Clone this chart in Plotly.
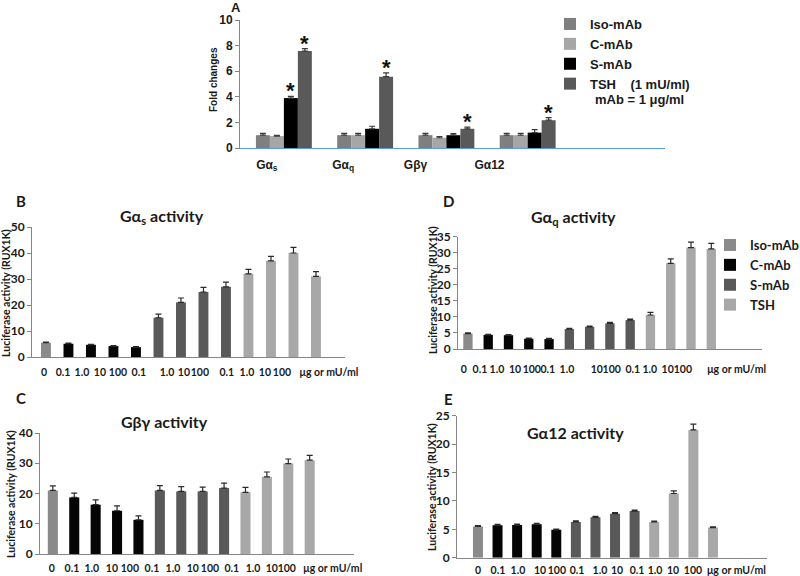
import plotly.graph_objects as go

# ---------------- Panel A data ----------------
A_TARGETS = ["Gα<sub>s</sub>", "Gα<sub>q</sub>", "Gβγ", "Gα12"]
A_SERIES = ["Iso-mAb", "C-mAb", "S-mAb", "TSH\u00a0\u00a0\u00a0\u00a0(1 mU/ml)"]
A_ISO = [1.0, 1.0, 1.0, 1.0]
A_ISO_ERR = [0.15, 0.15, 0.15, 0.15]
A_C = [0.93, 1.0, 0.8, 1.0]
A_C_ERR = [0.06, 0.15, 0.1, 0.15]
A_S = [3.9, 1.5, 1.0, 1.2]
A_S_ERR = [0.13, 0.2, 0.13, 0.23]
A_TSH = [7.57, 5.57, 1.5, 2.17]
A_TSH_ERR = [0.2, 0.3, 0.13, 0.2]
A_S_SIG = [True, False, False, False]
A_TSH_SIG = [True, True, True, True]
A_NOTE = "mAb = 1 μg/ml"

# ---------------- Panels B-E data ----------------
GROUPS = ["Iso-mAb", "C-mAb", "S-mAb", "TSH"]
BAR_GROUP = ["Iso-mAb",
             "C-mAb", "C-mAb", "C-mAb", "C-mAb",
             "S-mAb", "S-mAb", "S-mAb", "S-mAb",
             "TSH", "TSH", "TSH", "TSH"]

B_VALUES = [5.5, 5.1, 4.7, 4.2, 3.8, 15.1, 21.0, 25.0, 27.0, 32.0, 37.0, 40.0, 31.0]
B_ERRORS = [0.2, 0.2, 0.2, 0.2, 0.2, 1.4, 1.7, 1.8, 1.8, 1.7, 1.7, 2.2, 1.8]
B_LABELS = ["0", "0.1", "1.0", "10", "100", "0.1", "1.0", "10", "100",
            "0.1", "1.0", "10", "100", "μg or mU/ml"]

D_VALUES = [4.8, 4.4, 4.3, 3.2, 3.1, 6.2, 6.9, 8.0, 9.0, 10.6, 26.7, 31.6, 31.2]
D_ERRORS = [0.2, 0.2, 0.2, 0.2, 0.2, 0.2, 0.2, 0.3, 0.3, 0.8, 1.4, 1.7, 1.7]
D_LABELS = ["0", "0.1", "1.0", "10", "100", "0.1", "1.0", "10", "100",
            "0.1", "1.0", "10", "100", "μg or mU/ml"]

C_VALUES = [21.0, 18.7, 16.3, 14.3, 11.3, 21.0, 20.7, 20.7, 21.8, 20.4, 25.5, 29.9, 31.0]
C_ERRORS = [1.5, 1.4, 1.6, 1.6, 1.3, 1.6, 1.6, 1.4, 1.6, 1.6, 1.6, 1.5, 1.6]
C_LABELS = ["0", "0.1", "1.0", "10", "100", "0.1", "1.0", "10", "100",
            "0.1", "1.0", "10", "100", "μg or mU/ml"]

E_VALUES = [5.5, 5.7, 5.75, 5.9, 4.9, 6.3, 7.1, 7.75, 8.2, 6.3, 11.3, 22.5, 5.3]
E_ERRORS = [0.15, 0.15, 0.15, 0.15, 0.15, 0.2, 0.2, 0.2, 0.2, 0.15, 0.45, 1.0, 0.15]
E_LABELS = ["0", "0.1", "1.0", "10", "100", "0.1", "1.0", "10",
            "0.1", "1.0", "10", "100", "μg or mU/ml"]

# ---------------- layout constants (styling / placement) ----------------
W, H = 800, 576
A_COLORS = ["#7f7f7f", "#a6a6a6", "#000000", "#595959"]
G_COLORS = {"Iso-mAb": "#8a8a8a", "C-mAb": "#050505", "S-mAb": "#595959", "TSH": "#a8a8a8"}
AX_GRAY = "#868686"
TXT = "#1a1a1a"
ARIAL = "Liberation Sans, Arial, sans-serif"
CAL = "Lato, Open Sans, sans-serif"


def fx(p):
    return p / W


def fy(p):
    return 1 - p / H


fig = go.Figure()

# ---- Panel A ----
A_BAR_W = 0.172
a_sets = [(A_ISO, A_ISO_ERR), (A_C, A_C_ERR), (A_S, A_S_ERR), (A_TSH, A_TSH_ERR)]
a_x = list(range(len(A_TARGETS)))
for i, (vals, errs) in enumerate(a_sets):
    fig.add_trace(go.Bar(
        x=a_x, y=vals, width=A_BAR_W, offset=(i - 2) * A_BAR_W,
        marker=dict(color=A_COLORS[i], line=dict(width=0)),
        error_y=dict(type="data", array=errs, arrayminus=[0] * len(errs),
                     symmetric=False, color="#3a3a3a", thickness=1.2, width=3),
        name=A_SERIES[i], legend="legend", xaxis="x", yaxis="y",
    ))

annotations = []
star_font = dict(family=ARIAL, size=22, color="#111", weight="bold")
for i, sig in enumerate(A_S_SIG):
    if sig:
        annotations.append(dict(x=a_x[i] + A_BAR_W / 2, y=A_S[i] + A_S_ERR[i],
                                xref="x", yref="y", text="*", showarrow=False,
                                yanchor="bottom", yshift=-9, font=star_font))
for i, sig in enumerate(A_TSH_SIG):
    if sig:
        annotations.append(dict(x=a_x[i] + 1.5 * A_BAR_W, y=A_TSH[i] + A_TSH_ERR[i],
                                xref="x", yref="y", text="*", showarrow=False,
                                yanchor="bottom", yshift=-9, font=star_font))

# ---- Panels B-E ----
panels = [
    ("2", B_VALUES, B_ERRORS, 0.44, False),
    ("3", D_VALUES, D_ERRORS, 0.46, True),
    ("4", C_VALUES, C_ERRORS, 0.47, False),
    ("5", E_VALUES, E_ERRORS, 0.51, False),
]
for ax, vals, errs, bw, show in panels:
    for g in GROUPS:
        idx = [k for k, grp in enumerate(BAR_GROUP) if grp == g]
        fig.add_trace(go.Bar(
            x=idx, y=[vals[k] for k in idx], width=bw,
            marker=dict(color=G_COLORS[g], line=dict(width=0)),
            error_y=dict(type="data", array=[errs[k] for k in idx],
                         arrayminus=[0] * len(idx), symmetric=False,
                         color="#2a2a2a", thickness=1.2, width=3),
            name=g, showlegend=show, legend="legend2",
            xaxis="x" + ax, yaxis="y" + ax,
        ))

# ---- axes ----
A_TICK_POS = [-0.21, 0.73, 1.62, 2.53]
B_TICK_POS = [-0.09, 0.76, 1.6, 2.4, 3.2, 4.13, 5.38, 6.13, 6.84, 8.04, 8.93, 9.73, 10.49, 12.58]
D_TICK_POS = [-0.2, 0.59, 1.43, 2.32, 3.15, 3.94, 4.88, 6.35, 7.09, 8.13, 8.97, 9.85, 10.6, 13.25]
C_TICK_POS = [-0.05, 0.89, 1.82, 2.76, 3.6, 4.63, 5.61, 6.54, 7.34, 8.36, 9.35, 10.23, 10.93, 13.08]
E_TICK_POS = [0, 1.02, 2.04, 3.17, 4.03, 5.06, 6.23, 7.1, 8.12, 9.04, 9.96, 10.98, 13.2]

xtick_font_c = dict(family=CAL, size=10.5, color=TXT, weight="bold")
ytick_font_c = dict(family=CAL, size=12, color=TXT, weight="bold")
tick_font_a = dict(family=ARIAL, size=12, color=TXT, weight="bold")

layout = dict(
    width=W, height=H, margin=dict(l=0, r=0, t=0, b=0, autoexpand=False),
    paper_bgcolor="white", plot_bgcolor="rgba(0,0,0,0)",
    barmode="overlay", showlegend=True,
    xaxis=dict(domain=[fx(240), fx(665)], range=[-0.54, 4.69], showgrid=False, zeroline=False,
               showline=True, linecolor="#5b9bd5", linewidth=1.2, ticks="",
               tickmode="array", tickvals=A_TICK_POS, ticktext=A_TARGETS, tickangle=0,
               tickfont=dict(family=ARIAL, size=12, color=TXT, weight="bold"),
               ticklabelstandoff=5, anchor="y"),
    yaxis=dict(domain=[fy(148), fy(20)], range=[0, 10], dtick=2, showgrid=False, zeroline=False,
               showline=True, linecolor=AX_GRAY, ticks="outside", ticklen=4, tickcolor=AX_GRAY,
               tickfont=tick_font_a, anchor="x"),
)


def xa(dom, rng, tpos, tlab, anchor, standoff):
    return dict(domain=dom, range=rng, showgrid=False, zeroline=False, showline=True,
                linecolor=AX_GRAY, linewidth=1, ticks="", tickmode="array", tickangle=0,
                tickvals=tpos, ticktext=tlab, tickfont=xtick_font_c, anchor=anchor,
                ticklabelstandoff=standoff)


def ya(dom, rng, dt, anchor):
    return dict(domain=dom, range=rng, dtick=dt, showgrid=False, zeroline=False, showline=True,
                linecolor=AX_GRAY, linewidth=1, ticks="outside", ticklen=4, tickcolor=AX_GRAY,
                tickfont=ytick_font_c, anchor=anchor)


layout["xaxis2"] = xa([fx(32), fx(345)], [-0.62, 13.29], B_TICK_POS, B_LABELS, "y2", 5)
layout["yaxis2"] = ya([fy(357), fy(227)], [0, 50], 10, "x2")
layout["xaxis3"] = xa([fx(458), fx(762)], [-0.49, 14.5], D_TICK_POS, D_LABELS, "y3", 10)
layout["yaxis3"] = ya([fy(349), fy(236.7)], [0, 35], 5, "x3")
layout["xaxis4"] = xa([fx(40), fx(354)], [-0.6, 14.07], C_TICK_POS, C_LABELS, "y4", 4)
layout["yaxis4"] = ya([fy(554), fy(433)], [0, 40], 10, "x4")
layout["xaxis5"] = xa([fx(457), fx(767)], [-1.07, 14.76], E_TICK_POS, E_LABELS, "y5", 3)
layout["yaxis5"] = ya([fy(557.7), fy(415.7)], [0, 25], 5, "x5")

layout["legend"] = dict(x=fx(550), y=fy(9), xanchor="left", yanchor="top",
                        bgcolor="rgba(0,0,0,0)", borderwidth=0, itemwidth=30,
                        font=dict(family=ARIAL, size=13, color=TXT, weight="bold"))
layout["legend2"] = dict(x=fx(710), y=fy(230), xanchor="left", yanchor="top",
                         bgcolor="rgba(0,0,0,0)", borderwidth=0, itemwidth=30,
                         tracegroupgap=2,
                         font=dict(family=CAL, size=13, color=TXT, weight="bold"))


def txt(x, y, text, size, family, angle=0, xanchor="center"):
    return dict(x=fx(x), y=fy(y), xref="paper", yref="paper", text=text, showarrow=False,
                xanchor=xanchor, yanchor="middle", textangle=angle,
                font=dict(family=family, size=size, color=TXT, weight="bold"))


annotations += [
    txt(236, 7, "A", 13, ARIAL),
    txt(21, 201, "B", 15, CAL),
    txt(448, 201, "D", 15, CAL),
    txt(21, 398, "C", 15, CAL),
    txt(448, 399, "E", 15, CAL),
    txt(162, 216, "Gα<sub>s</sub> activity", 16, CAL),
    txt(573, 217, "Gα<sub>q</sub> activity", 16, CAL),
    txt(164, 421, "Gβγ activity", 16, CAL),
    txt(575, 432, "Gα12 activity", 16, CAL),
    txt(214, 80, "Fold changes", 10, ARIAL, -90),
    txt(6, 293, "Luciferase activity (RUX1K)", 10.5, CAL, -90),
    txt(433, 290, "Luciferase activity (RUX1K)", 10.5, CAL, -90),
    txt(11, 494, "Luciferase activity (RUX1K)", 10.5, CAL, -90),
    txt(432, 487, "Luciferase activity (RUX1K)", 10.5, CAL, -90),
    txt(593, 99, A_NOTE, 13, ARIAL, xanchor="left"),
]
layout["annotations"] = annotations

fig.update_layout(**layout)
fig.write_html("out.html", config={"displayModeBar": False},
               post_script="document.body.style.margin='0px';")
